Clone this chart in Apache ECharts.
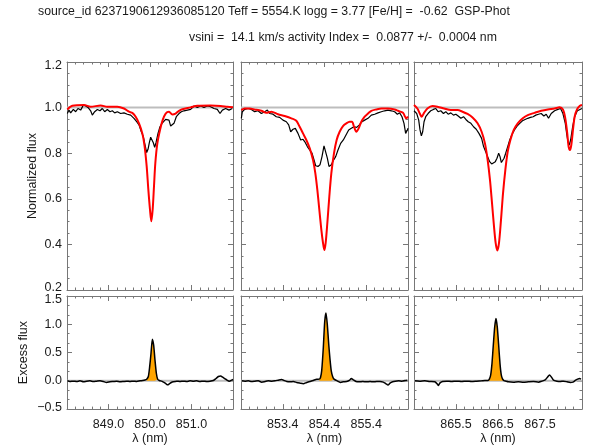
<!DOCTYPE html>
<html>
<head>
<meta charset="utf-8">
<script src="https://cdn.jsdelivr.net/npm/echarts@6/dist/echarts.min.js"></script>
<style>
html, body { margin: 0; padding: 0; background: #fff; }
#chart { width: 596px; height: 446px; }
</style>
</head>
<body>
<div id="chart"></div>
<script>
// wavelength windows of the three Ca II panels (nm)
const xRanges = [[848.0, 852.0], [852.4, 856.4], [864.5, 868.5]];
// integration windows shaded in orange
const windows = [[849.915, 850.19], [854.27, 854.63], [866.26, 866.645]];
const refTop = 1.0, refBottom = 0.0;

// --- panel 1 (850 nm) ---
const red1X = [848.008, 848.128, 848.410, 848.570, 848.811, 848.972, 849.213, 849.373, 849.494, 849.574, 849.655, 849.735, 849.815, 849.871, 849.920, 849.960, 850.000, 850.032, 850.064, 850.096, 850.128, 850.177, 850.241, 850.305, 850.377, 850.458, 850.538, 850.618, 850.699, 850.779, 850.980, 851.141, 851.462, 851.703, 851.863, 852.0];
const red1Y = [0.992, 1.008, 1.011, 1.004, 1.009, 1.004, 1.004, 0.996, 0.982, 0.977, 0.960, 0.931, 0.887, 0.829, 0.742, 0.640, 0.552, 0.501, 0.552, 0.654, 0.756, 0.843, 0.902, 0.945, 0.974, 0.982, 0.970, 0.974, 0.986, 0.993, 1.001, 1.008, 1.009, 1.007, 1.004, 1.002];
const obs1X = [848.008, 848.048, 848.088, 848.153, 848.209, 848.265, 848.329, 848.394, 848.450, 848.506, 848.570, 848.610, 848.667, 848.731, 848.795, 848.851, 848.908, 848.972, 849.036, 849.092, 849.149, 849.213, 849.293, 849.373, 849.454, 849.534, 849.614, 849.679, 849.735, 849.791, 849.839, 849.880, 849.920, 849.952, 849.984, 850.016, 850.048, 850.080, 850.112, 850.145, 850.193, 850.241, 850.289, 850.337, 850.377, 850.418, 850.458, 850.498, 850.538, 850.578, 850.634, 850.699, 850.755, 850.819, 850.900, 850.980, 851.060, 851.141, 851.221, 851.301, 851.382, 851.462, 851.542, 851.622, 851.687, 851.743, 851.823, 851.903, 851.983];
const obs1Y = [0.974, 0.989, 0.977, 0.992, 0.982, 0.996, 0.989, 1.011, 1.007, 1.001, 0.986, 0.967, 0.982, 0.992, 0.986, 0.996, 0.982, 0.992, 0.982, 0.986, 0.977, 0.982, 0.974, 0.977, 0.971, 0.967, 0.953, 0.938, 0.924, 0.894, 0.873, 0.836, 0.803, 0.817, 0.846, 0.870, 0.873, 0.846, 0.826, 0.846, 0.887, 0.916, 0.931, 0.934, 0.948, 0.942, 0.945, 0.919, 0.913, 0.931, 0.960, 0.974, 0.982, 0.986, 0.989, 0.992, 1.007, 1.001, 1.007, 1.001, 1.007, 1.004, 0.996, 0.992, 0.974, 0.989, 0.996, 0.989, 0.996];
const ex1X = [848.008, 848.072, 848.153, 848.233, 848.313, 848.394, 848.474, 848.554, 848.635, 848.715, 848.795, 848.876, 848.956, 849.036, 849.116, 849.197, 849.277, 849.357, 849.438, 849.518, 849.598, 849.679, 849.759, 849.823, 849.879, 849.920, 849.960, 849.992, 850.024, 850.056, 850.088, 850.120, 850.153, 850.185, 850.225, 850.281, 850.337, 850.385, 850.426, 850.466, 850.514, 850.562, 850.642, 850.723, 850.803, 850.883, 850.964, 851.044, 851.124, 851.205, 851.285, 851.365, 851.446, 851.526, 851.590, 851.647, 851.703, 851.751, 851.799, 851.847, 851.912, 851.968, 852.0];
const ex1Y = [0, -0.012, -0.006, -0.012, 0, -0.017, -0.006, 0, -0.012, -0.006, 0, -0.012, -0.029, -0.017, -0.012, -0.006, -0.017, -0.012, -0.006, -0.012, -0.006, -0.012, 0, 0.006, 0.015, 0.029, 0.076, 0.250, 0.484, 0.735, 0.630, 0.367, 0.134, 0.029, 0.006, -0.006, -0.029, -0.052, -0.070, -0.052, -0.029, -0.017, -0.006, -0.012, -0.006, -0.012, 0, -0.006, 0, -0.012, -0.006, -0.012, -0.006, 0.006, 0.041, 0.076, 0.087, 0.064, 0.041, 0.017, -0.006, 0.012, 0.023];

// --- panel 2 (854 nm) ---
const red2X = [852.408, 852.488, 852.608, 852.727, 852.887, 853.007, 853.127, 853.286, 853.446, 853.606, 853.725, 853.805, 853.885, 853.965, 854.045, 854.124, 854.180, 854.228, 854.276, 854.324, 854.364, 854.396, 854.428, 854.468, 854.516, 854.564, 854.628, 854.691, 854.763, 854.843, 854.923, 855.003, 855.059, 855.107, 855.163, 855.218, 855.282, 855.362, 855.442, 855.522, 855.642, 855.761, 855.921, 856.081, 856.161, 856.280, 856.360, 856.4];
const red2Y = [0.989, 0.996, 0.996, 0.992, 0.986, 0.977, 0.982, 0.971, 0.963, 0.953, 0.942, 0.916, 0.887, 0.858, 0.822, 0.771, 0.713, 0.640, 0.552, 0.465, 0.407, 0.375, 0.407, 0.494, 0.611, 0.713, 0.800, 0.858, 0.894, 0.919, 0.931, 0.938, 0.938, 0.916, 0.894, 0.909, 0.938, 0.960, 0.974, 0.986, 0.992, 0.996, 0.996, 0.992, 0.986, 0.977, 0.953, 0.960];
const obs2X = [852.408, 852.432, 852.488, 852.568, 852.648, 852.727, 852.807, 852.887, 852.967, 853.031, 853.087, 853.166, 853.246, 853.326, 853.406, 853.486, 853.542, 853.590, 853.646, 853.701, 853.765, 853.829, 853.885, 853.925, 853.989, 854.045, 854.101, 854.149, 854.188, 854.244, 854.292, 854.340, 854.388, 854.428, 854.468, 854.508, 854.564, 854.620, 854.668, 854.723, 854.787, 854.851, 854.915, 854.979, 855.043, 855.107, 855.171, 855.234, 855.298, 855.362, 855.442, 855.522, 855.602, 855.681, 855.761, 855.841, 855.921, 856.001, 856.081, 856.145, 856.200, 856.256, 856.304, 856.344, 856.384, 856.4];
const obs2Y = [0.953, 0.982, 0.992, 0.996, 0.992, 0.982, 0.986, 0.974, 0.982, 0.989, 0.974, 0.971, 0.960, 0.957, 0.945, 0.938, 0.924, 0.894, 0.905, 0.909, 0.887, 0.858, 0.861, 0.851, 0.829, 0.814, 0.800, 0.771, 0.745, 0.742, 0.749, 0.785, 0.832, 0.826, 0.778, 0.742, 0.749, 0.771, 0.785, 0.814, 0.843, 0.858, 0.880, 0.902, 0.909, 0.916, 0.913, 0.924, 0.938, 0.945, 0.953, 0.967, 0.971, 0.977, 0.982, 0.986, 0.989, 0.986, 0.982, 0.971, 0.977, 0.960, 0.931, 0.887, 0.902, 0.909];
const ex2X = [852.417, 852.496, 852.575, 852.656, 852.735, 852.814, 852.896, 852.975, 853.054, 853.135, 853.214, 853.293, 853.375, 853.430, 853.495, 853.574, 853.653, 853.734, 853.813, 853.892, 853.974, 854.053, 854.132, 854.213, 854.275, 854.304, 854.333, 854.371, 854.405, 854.436, 854.467, 854.501, 854.532, 854.563, 854.597, 854.628, 854.676, 854.731, 854.788, 854.850, 854.932, 854.994, 855.042, 855.090, 855.154, 855.233, 855.315, 855.411, 855.490, 855.569, 855.650, 855.729, 855.808, 855.873, 855.921, 855.969, 856.033, 856.096, 856.177, 856.256, 856.328, 856.383];
const ex2Y = [0, -0.006, 0, -0.012, -0.006, 0, -0.023, -0.012, 0, -0.006, 0, 0.012, 0.023, 0.006, -0.012, -0.017, -0.012, -0.029, -0.041, -0.052, -0.029, -0.012, 0.006, 0.029, 0.03, 0.06, 0.18, 0.58, 1.05, 1.20, 1.00, 0.65, 0.38, 0.17, 0.07, 0.03, 0.01, -0.012, -0.029, -0.017, -0.012, 0.006, 0.041, 0.017, -0.012, -0.017, -0.012, -0.017, -0.012, -0.017, -0.012, -0.012, -0.023, -0.052, -0.076, -0.041, -0.017, -0.006, 0, -0.006, 0.006, 0.012];

// --- panel 3 (866 nm) ---
const red3X = [864.500, 864.580, 864.643, 864.683, 864.739, 864.819, 864.938, 865.058, 865.217, 865.377, 865.536, 865.655, 865.775, 865.894, 866.014, 866.110, 866.189, 866.253, 866.309, 866.357, 866.404, 866.444, 866.484, 866.524, 866.572, 866.620, 866.675, 866.731, 866.795, 866.875, 866.970, 867.090, 867.209, 867.369, 867.528, 867.687, 867.847, 867.966, 868.046, 868.102, 868.149, 868.181, 868.213, 868.245, 868.285, 868.325, 868.381, 868.444, 868.5];
const red3Y = [1.011, 0.996, 0.972, 0.960, 0.977, 0.996, 1.007, 1.004, 0.996, 0.989, 0.989, 0.982, 0.972, 0.957, 0.931, 0.894, 0.843, 0.771, 0.683, 0.582, 0.480, 0.407, 0.373, 0.407, 0.509, 0.625, 0.727, 0.807, 0.858, 0.902, 0.931, 0.953, 0.967, 0.977, 0.986, 0.992, 0.996, 1.001, 0.992, 0.953, 0.887, 0.829, 0.814, 0.836, 0.902, 0.960, 0.992, 1.007, 1.011];
const obs3X = [864.500, 864.564, 864.612, 864.643, 864.675, 864.707, 864.739, 864.779, 864.835, 864.898, 864.962, 865.018, 865.074, 865.137, 865.201, 865.257, 865.313, 865.377, 865.440, 865.496, 865.552, 865.616, 865.679, 865.735, 865.791, 865.855, 865.918, 865.982, 866.046, 866.110, 866.157, 866.205, 866.253, 866.301, 866.349, 866.396, 866.436, 866.476, 866.516, 866.548, 866.580, 866.612, 866.644, 866.683, 866.731, 866.779, 866.827, 866.891, 866.954, 867.018, 867.082, 867.145, 867.209, 867.273, 867.337, 867.400, 867.464, 867.528, 867.592, 867.648, 867.703, 867.767, 867.847, 867.926, 867.990, 868.046, 868.102, 868.134, 868.166, 868.197, 868.229, 868.277, 868.325, 868.388, 868.452, 868.5];
const obs3Y = [0.986, 0.974, 0.945, 0.902, 0.876, 0.894, 0.938, 0.960, 0.974, 0.986, 0.992, 0.996, 0.982, 0.986, 0.974, 0.982, 0.971, 0.977, 0.967, 0.971, 0.963, 0.953, 0.960, 0.948, 0.938, 0.931, 0.916, 0.905, 0.887, 0.865, 0.829, 0.807, 0.785, 0.763, 0.753, 0.745, 0.763, 0.778, 0.800, 0.785, 0.759, 0.763, 0.778, 0.800, 0.829, 0.858, 0.880, 0.902, 0.919, 0.931, 0.942, 0.948, 0.953, 0.957, 0.960, 0.967, 0.971, 0.974, 0.963, 0.971, 0.953, 0.974, 0.986, 0.992, 0.996, 0.974, 0.931, 0.887, 0.851, 0.836, 0.858, 0.916, 0.960, 0.986, 0.992, 0.996];
const ex3X = [864.517, 864.636, 864.756, 864.875, 864.995, 865.050, 865.083, 865.114, 865.179, 865.274, 865.394, 865.513, 865.633, 865.752, 865.872, 865.991, 866.111, 866.189, 866.262, 866.294, 866.325, 866.356, 866.390, 866.421, 866.452, 866.483, 866.514, 866.548, 866.579, 866.610, 866.642, 866.690, 866.746, 866.866, 866.985, 867.105, 867.224, 867.344, 867.463, 867.544, 867.623, 867.678, 867.726, 867.774, 867.821, 867.903, 867.982, 868.060, 868.142, 868.221, 868.285, 868.340, 868.395, 868.443, 868.476];
const ex3Y = [0, -0.006, 0, -0.012, -0.017, -0.052, -0.082, -0.041, -0.012, -0.006, -0.012, -0.006, -0.012, -0.006, -0.012, -0.006, 0, 0.006, 0.005, 0.03, 0.10, 0.30, 0.65, 0.95, 1.10, 0.95, 0.65, 0.30, 0.10, 0.03, 0.005, -0.006, -0.017, -0.023, -0.017, -0.023, -0.017, -0.012, -0.023, -0.006, 0.017, 0.064, 0.105, 0.064, 0.012, -0.006, -0.012, -0.006, -0.017, -0.029, -0.023, 0.006, 0.029, 0.041, 0.029];

const title1 = 'source_id 6237190612936085120 Teff = 5554.K logg = 3.77 [Fe/H] =  -0.62  GSP-Phot';
const title2 = 'vsini =  14.1 km/s activity Index =  0.0877 +/-  0.0004 nm';

const redX = [red1X, red2X, red3X], redY = [red1Y, red2Y, red3Y];
const obsX = [obs1X, obs2X, obs3X], obsY = [obs1Y, obs2Y, obs3Y];
const exX = [ex1X, ex2X, ex3X], exY = [ex1Y, ex2Y, ex3Y];

const font = "'Liberation Sans', Arial, sans-serif";
const frame = '#777';
const txt = '#1a1a1a';
const lefts = [67, 241, 414], widths = [166, 167, 168];

function zip(xs, ys) {
    return xs.map(function (x, i) { return [x, ys[i]]; });
}

function xAxisCfg(g, r, pos, labels) {
    return {
        type: 'value', gridIndex: g, position: pos, min: r[0], max: r[1], interval: 1,
        axisLine: {show: true, onZero: false, lineStyle: {color: frame, width: 1}},
        axisTick: {show: true, inside: true, length: 5, lineStyle: {color: frame}},
        minorTick: {show: true, splitNumber: 5, length: 2.5, lineStyle: {color: frame}},
        splitLine: {show: false},
        axisLabel: {
            show: labels, showMinLabel: false, showMaxLabel: false, margin: 9,
            color: txt, fontSize: 12.5, fontFamily: font,
            formatter: function (v) { return v.toFixed(1); }
        },
        name: labels ? 'λ (nm)' : '', nameLocation: 'middle', nameGap: 21,
        nameTextStyle: {color: txt, fontSize: 12.5, fontFamily: font}
    };
}

function yAxisCfg(g, lo, hi, step, minor, pos, labels, name, gap) {
    const lab = {color: txt, fontSize: 12.5, fontFamily: font};
    return {
        type: 'value', gridIndex: g, position: pos, min: lo, max: hi, interval: step,
        axisLine: {show: true, onZero: false, lineStyle: {color: frame, width: 1}},
        axisTick: {show: true, inside: true, length: 5, lineStyle: {color: frame}},
        minorTick: {show: true, splitNumber: minor, length: 2.5, lineStyle: {color: frame}},
        splitLine: {show: false},
        axisLabel: {
            show: labels, margin: 5, color: txt, fontSize: 12.5, fontFamily: font,
            formatter: function (v) {
                const s = (v < 0 ? '\u2212' : '') + Math.abs(v).toFixed(1);
                // edge labels are nudged inside the frame
                if (Math.abs(v - lo) < 1e-6) return '{lo|' + s + '}';
                if (Math.abs(v - hi) < 1e-6) return '{hi|' + s + '}';
                return s;
            },
            rich: {
                lo: Object.assign({padding: [0, 0, 4, 0]}, lab),
                hi: Object.assign({padding: [8, 0, 0, 0]}, lab)
            }
        },
        name: labels ? name : '', nameLocation: 'middle', nameGap: gap,
        nameTextStyle: {color: txt, fontSize: 12.5, fontFamily: font}
    };
}

const grid = [], xAxis = [], yAxis = [], series = [];
for (let p = 0; p < 3; p++) {
    grid.push({left: lefts[p], top: 62, width: widths[p], height: 228});
}
for (let p = 0; p < 3; p++) {
    grid.push({left: lefts[p], top: 296, width: widths[p], height: 114});
}
for (let g = 0; g < 6; g++) {
    const p = g % 3, bottomRow = g >= 3;
    xAxis.push(xAxisCfg(g, xRanges[p], 'bottom', bottomRow));
    xAxis.push(xAxisCfg(g, xRanges[p], 'top', false));
    if (bottomRow) {
        yAxis.push(yAxisCfg(g, -0.5, 1.5, 0.5, 3, 'left', p === 0, 'Excess flux', 37));
        yAxis.push(yAxisCfg(g, -0.5, 1.5, 0.5, 3, 'right', false, '', 0));
    } else {
        yAxis.push(yAxisCfg(g, 0.2, 1.2, 0.2, 4, 'left', p === 0, 'Normalized flux', 28));
        yAxis.push(yAxisCfg(g, 0.2, 1.2, 0.2, 4, 'right', false, '', 0));
    }
}

for (let p = 0; p < 3; p++) {
    const r = xRanges[p];
    const gt = p, gb = p + 3;
    // top: continuum level, observed and model spectra
    series.push({
        type: 'line', xAxisIndex: 2 * gt, yAxisIndex: 2 * gt, z: 1, showSymbol: false, silent: true,
        data: [[r[0], refTop], [r[1], refTop]], lineStyle: {color: '#bdbdbd', width: 2}
    });
    series.push({
        type: 'line', xAxisIndex: 2 * gt, yAxisIndex: 2 * gt, z: 3, showSymbol: false, silent: true,
        data: zip(obsX[p], obsY[p]), lineStyle: {color: '#000', width: 1.2}
    });
    series.push({
        type: 'line', xAxisIndex: 2 * gt, yAxisIndex: 2 * gt, z: 4, showSymbol: false, silent: true,
        smooth: 0.3, data: zip(redX[p], redY[p]), lineStyle: {color: '#ff0000', width: 2}
    });
    // bottom: excess flux with the integrated region
    const ex = zip(exX[p], exY[p]);
    const w = windows[p];
    series.push({
        type: 'line', xAxisIndex: 2 * gb, yAxisIndex: 2 * gb, z: 1, showSymbol: false, silent: true,
        data: [[r[0], refBottom], [r[1], refBottom]], lineStyle: {color: '#bdbdbd', width: 2}
    });
    series.push({
        type: 'line', xAxisIndex: 2 * gb, yAxisIndex: 2 * gb, z: 2, showSymbol: false, silent: true,
        smooth: 0.2,
        data: ex.filter(function (d) { return d[0] >= w[0] && d[0] <= w[1]; }),
        lineStyle: {width: 0}, areaStyle: {color: '#ffa500', opacity: 1, origin: 0}
    });
    series.push({
        type: 'line', xAxisIndex: 2 * gb, yAxisIndex: 2 * gb, z: 3, showSymbol: false, silent: true,
        smooth: 0.2, data: ex, lineStyle: {color: '#000', width: 1.5}
    });
}

const myChart = echarts.init(document.getElementById('chart'), null, {renderer: 'canvas'});
myChart.setOption({
    backgroundColor: '#ffffff',
    animation: false,
    title: [
        {text: title1, left: 38, top: 6, padding: 0, textStyle: {color: txt, fontSize: 12.3, fontWeight: 'normal', fontFamily: font}},
        {text: title2, left: 189, top: 32, padding: 0, textStyle: {color: txt, fontSize: 12.3, fontWeight: 'normal', fontFamily: font}}
    ],
    grid: grid,
    xAxis: xAxis,
    yAxis: yAxis,
    series: series
});
window.onresize = myChart.resize;
</script>
</body>
</html>
